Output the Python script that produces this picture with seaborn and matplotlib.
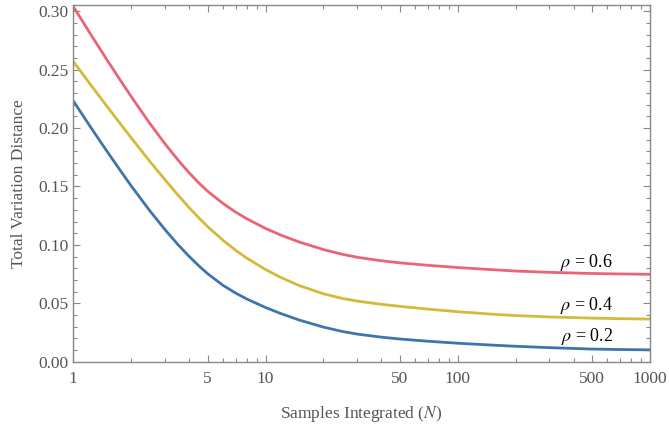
import matplotlib
matplotlib.use("Agg")
import matplotlib.pyplot as plt
import matplotlib.ticker as mticker
import pandas as pd
import seaborn as sns

# ---- data ----
N = [1, 1.25, 1.5, 1.75, 2, 2.5, 3, 3.5, 4, 4.5, 5, 6, 7, 8, 10, 12, 15, 20, 25, 30,
     40, 50, 70, 100, 150, 200, 300, 500, 700, 1000]
tvd_06 = [0.304, 0.2786, 0.2582, 0.2413, 0.2270, 0.2040, 0.1865, 0.1728, 0.1618, 0.1530,
          0.1459, 0.1355, 0.1280, 0.1223, 0.1141, 0.1084, 0.1024, 0.0960, 0.0920, 0.0894,
          0.0864, 0.0846, 0.0825, 0.0806, 0.0788, 0.0776, 0.0765, 0.0755, 0.0751, 0.0748]
tvd_04 = [0.257, 0.2356, 0.2184, 0.2040, 0.1917, 0.1715, 0.1557, 0.1427, 0.1320, 0.1231,
          0.1156, 0.1040, 0.0953, 0.0886, 0.0789, 0.0721, 0.0651, 0.0581, 0.0542, 0.0519,
          0.0491, 0.0474, 0.0450, 0.0428, 0.0407, 0.0395, 0.0383, 0.0373, 0.0368, 0.0365]
tvd_02 = [0.2232, 0.1991, 0.1799, 0.1640, 0.1505, 0.1292, 0.1130, 0.1003, 0.0902, 0.0820,
          0.0753, 0.0654, 0.0587, 0.0536, 0.0464, 0.0412, 0.0356, 0.0296, 0.0259, 0.0236,
          0.0210, 0.0194, 0.0175, 0.0158, 0.0142, 0.0132, 0.0120, 0.0108, 0.0104, 0.0101]
rho_labels = ["0.6", "0.4", "0.2"]
label_y = [0.0845, 0.0485, 0.0214]
label_x = 469
x_ticks = [1, 5, 10, 50, 100, 500, 1000]
y_ticks = [0.00, 0.05, 0.10, 0.15, 0.20, 0.25, 0.30]

colors = {"0.6": "#EB6476", "0.4": "#D4BA3A", "0.2": "#3E75AD"}

df = pd.concat([
    pd.DataFrame({"N": N, "TVD": tvd_06, "rho": "0.6"}),
    pd.DataFrame({"N": N, "TVD": tvd_04, "rho": "0.4"}),
    pd.DataFrame({"N": N, "TVD": tvd_02, "rho": "0.2"}),
])

sns.set_style("ticks")
plt.rcParams["font.family"] = ["Liberation Serif", "DejaVu Serif"]
plt.rcParams["mathtext.fontset"] = "stix"

fig = plt.figure(figsize=(6.69, 4.26), dpi=100)
ax = fig.add_axes([0.1096, 0.151, 0.8620, 0.8373])

sns.lineplot(data=df, x="N", y="TVD", hue="rho", palette=colors, ax=ax,
             linewidth=2.0, legend=False, sort=False)
for ln in ax.lines:
    ln.set_solid_joinstyle("round")

ax.set_xscale("log")
ax.set_xlim(1, 1000)
ax.set_ylim(0, 0.3054)

gray = "#888888"
tcol = "#555555"
ax.xaxis.set_major_locator(mticker.FixedLocator(x_ticks))
ax.xaxis.set_major_formatter(mticker.FixedFormatter([str(t) for t in x_ticks]))
minors = [m * 10 ** e for e in range(0, 3) for m in range(2, 10)]
ax.xaxis.set_minor_locator(mticker.FixedLocator(minors))
ax.xaxis.set_minor_formatter(mticker.NullFormatter())
ax.yaxis.set_major_locator(mticker.FixedLocator(y_ticks))
ax.yaxis.set_major_formatter(mticker.FixedFormatter([f"{t:.2f}" for t in y_ticks]))
ax.yaxis.set_minor_locator(mticker.MultipleLocator(0.01))

ax.tick_params(which="both", direction="in", top=True, right=True, color=gray,
               width=0.8, labelcolor=tcol, labelsize=12.5)
ax.tick_params(which="major", length=5)
ax.tick_params(which="minor", length=3)
ax.tick_params(axis="x", which="major", pad=7)
for s in ax.spines.values():
    s.set_color(gray)
    s.set_linewidth(1.0)

ax.set_xlabel("Samples Integrated ($N$)", color=tcol, fontsize=12.5, labelpad=12)
ax.set_ylabel("Total Variation Distance", color=tcol, fontsize=12.5, labelpad=8)

for lab, yv in zip(rho_labels, label_y):
    ax.text(label_x, yv, r"$\rho$ = " + lab, ha="center", va="center",
            fontsize=13, color="black")

fig.savefig("out.png", dpi=100)
